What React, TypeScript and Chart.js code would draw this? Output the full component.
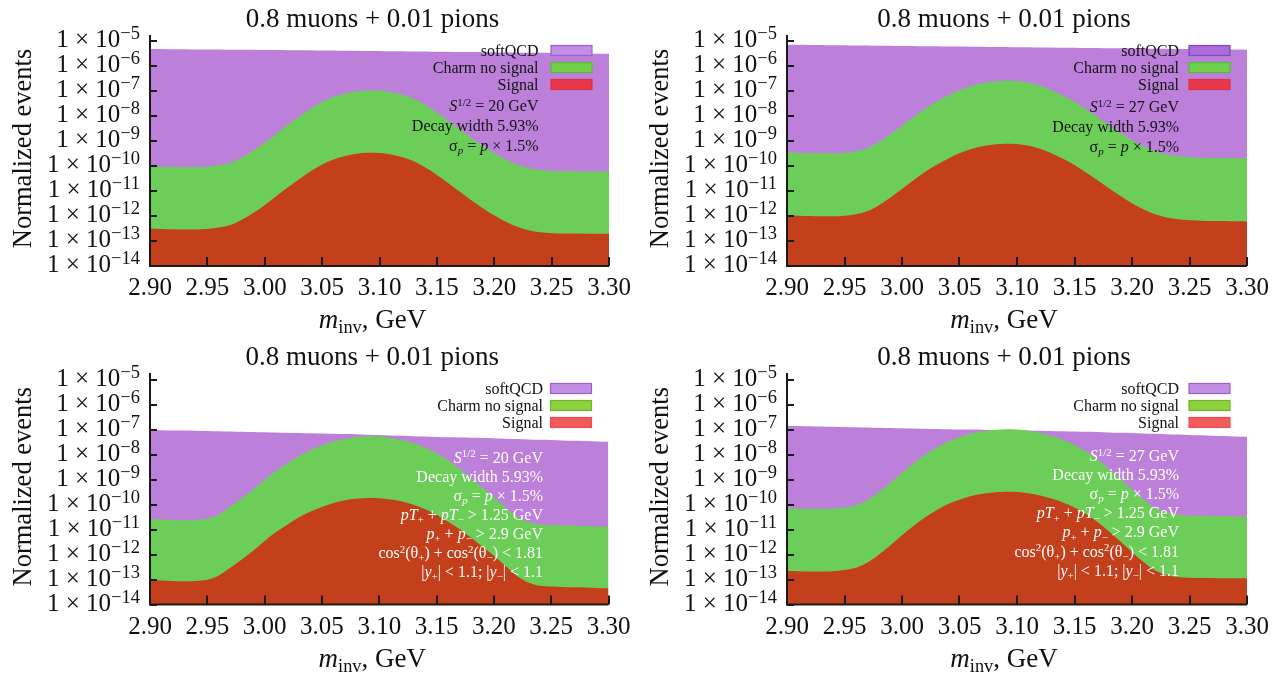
import React, { useEffect, useRef } from 'react';
import { Chart, registerables } from 'chart.js';

Chart.register(...registerables);

// ---------- data ----------
const massGeV = [
  2.90, 2.91, 2.92, 2.93, 2.94, 2.95, 2.96, 2.97, 2.98, 2.99,
  3.00, 3.01, 3.02, 3.03, 3.04, 3.05, 3.06, 3.07, 3.08, 3.09,
  3.10, 3.11, 3.12, 3.13, 3.14, 3.15, 3.16, 3.17, 3.18, 3.19,
  3.20, 3.21, 3.22, 3.23, 3.24, 3.25, 3.26, 3.27, 3.28, 3.29,
  3.30,
];
const xTickLabels = ['2.90', '2.95', '3.00', '3.05', '3.10', '3.15', '3.20', '3.25', '3.30'];
const yTickExponents = [-14, -13, -12, -11, -10, -9, -8, -7, -6, -5];
const seriesNames = ['softQCD', 'Charm no signal', 'Signal'];
const panelTitle = '0.8 muons + 0.01 pions';

// log10(normalized events), S^1/2 = 20 GeV, no cuts
const softQCD_20 = [
  -5.30, -5.30, -5.31, -5.31, -5.32, -5.32, -5.32, -5.33, -5.33, -5.33,
  -5.34, -5.34, -5.35, -5.35, -5.35, -5.36, -5.36, -5.37, -5.37, -5.38,
  -5.38, -5.39, -5.39, -5.40, -5.40, -5.41, -5.41, -5.42, -5.42, -5.43,
  -5.43, -5.44, -5.44, -5.45, -5.45, -5.46, -5.47, -5.47, -5.48, -5.49,
  -5.49,
];
const charm_20 = [
  -10.00, -10.02, -10.03, -10.04, -10.04, -10.02, -9.96, -9.86, -9.65, -9.38,
  -9.05, -8.70, -8.35, -8.02, -7.70, -7.43, -7.23, -7.09, -7.00, -6.96,
  -6.97, -7.03, -7.14, -7.30, -7.55, -7.85, -8.18, -8.52, -8.86, -9.18,
  -9.47, -9.73, -9.93, -10.07, -10.15, -10.19, -10.20, -10.20, -10.21, -10.21,
  -10.21,
];
const signal_20 = [
  -12.50, -12.52, -12.53, -12.54, -12.54, -12.52, -12.46, -12.36, -12.15, -11.88,
  -11.55, -11.20, -10.85, -10.52, -10.20, -9.93, -9.73, -9.59, -9.50, -9.46,
  -9.47, -9.53, -9.64, -9.80, -10.05, -10.35, -10.68, -11.02, -11.36, -11.68,
  -11.97, -12.23, -12.43, -12.57, -12.65, -12.69, -12.70, -12.70, -12.71, -12.71,
  -12.71,
];

// S^1/2 = 27 GeV, no cuts
const softQCD_27 = [
  -5.13, -5.13, -5.14, -5.14, -5.15, -5.15, -5.16, -5.16, -5.17, -5.17,
  -5.18, -5.18, -5.19, -5.19, -5.20, -5.20, -5.21, -5.21, -5.22, -5.22,
  -5.23, -5.23, -5.24, -5.24, -5.25, -5.25, -5.26, -5.26, -5.27, -5.27,
  -5.28, -5.28, -5.29, -5.29, -5.30, -5.30, -5.31, -5.31, -5.32, -5.32,
  -5.33,
];
const charm_27 = [
  -9.45, -9.46, -9.47, -9.48, -9.48, -9.46, -9.40, -9.27, -9.03, -8.72,
  -8.38, -8.03, -7.70, -7.42, -7.17, -6.95, -6.78, -6.67, -6.60, -6.57,
  -6.58, -6.65, -6.77, -6.95, -7.17, -7.42, -7.72, -8.03, -8.35, -8.66,
  -8.95, -9.20, -9.40, -9.53, -9.60, -9.64, -9.66, -9.67, -9.67, -9.68,
  -9.68,
];
const signal_27 = [
  -11.98, -11.99, -12.00, -12.01, -12.01, -11.99, -11.93, -11.80, -11.56, -11.25,
  -10.91, -10.56, -10.23, -9.95, -9.70, -9.48, -9.31, -9.20, -9.13, -9.10,
  -9.11, -9.18, -9.30, -9.48, -9.70, -9.95, -10.25, -10.56, -10.88, -11.19,
  -11.48, -11.73, -11.93, -12.06, -12.13, -12.17, -12.19, -12.20, -12.20, -12.21,
  -12.21,
];

// S^1/2 = 20 GeV, with cuts
const softQCD_20cut = [
  -7.02, -7.03, -7.04, -7.04, -7.05, -7.06, -7.07, -7.08, -7.09, -7.10,
  -7.11, -7.12, -7.13, -7.14, -7.15, -7.16, -7.17, -7.18, -7.19, -7.21,
  -7.22, -7.24, -7.25, -7.27, -7.28, -7.30, -7.31, -7.32, -7.33, -7.34,
  -7.35, -7.37, -7.38, -7.40, -7.41, -7.42, -7.44, -7.45, -7.46, -7.48,
  -7.49,
];
const charm_20cut = [
  -10.58, -10.60, -10.62, -10.63, -10.62, -10.57, -10.40, -10.08, -9.75, -9.40,
  -9.02, -8.65, -8.35, -8.06, -7.83, -7.64, -7.48, -7.37, -7.31, -7.27,
  -7.28, -7.34, -7.42, -7.55, -7.73, -7.95, -8.23, -8.58, -8.95, -9.33,
  -9.70, -10.10, -10.47, -10.70, -10.79, -10.82, -10.83, -10.85, -10.86, -10.88,
  -10.89,
];
const signal_20cut = [
  -13.02, -13.04, -13.06, -13.07, -13.06, -13.01, -12.84, -12.53, -12.20, -11.85,
  -11.46, -11.10, -10.80, -10.51, -10.28, -10.10, -9.94, -9.83, -9.77, -9.74,
  -9.75, -9.80, -9.88, -10.01, -10.19, -10.41, -10.69, -10.98, -11.32, -11.68,
  -12.05, -12.45, -12.85, -13.12, -13.25, -13.28, -13.30, -13.31, -13.32, -13.34,
  -13.35,
];

// S^1/2 = 27 GeV, with cuts
const softQCD_27cut = [
  -6.85, -6.86, -6.87, -6.88, -6.89, -6.90, -6.91, -6.92, -6.93, -6.94,
  -6.95, -6.96, -6.97, -6.98, -6.99, -7.00, -7.00, -7.01, -7.02, -7.02,
  -7.03, -7.04, -7.05, -7.06, -7.07, -7.08, -7.09, -7.10, -7.12, -7.13,
  -7.14, -7.16, -7.17, -7.19, -7.20, -7.22, -7.23, -7.25, -7.26, -7.28,
  -7.29,
];
const charm_27cut = [
  -10.15, -10.16, -10.17, -10.17, -10.16, -10.12, -10.03, -9.82, -9.50, -9.13,
  -8.73, -8.36, -8.02, -7.73, -7.48, -7.31, -7.16, -7.07, -7.02, -6.99,
  -7.00, -7.05, -7.14, -7.26, -7.42, -7.62, -7.88, -8.20, -8.58, -8.98,
  -9.40, -9.80, -10.13, -10.32, -10.41, -10.44, -10.45, -10.46, -10.47, -10.48,
  -10.49,
];
const signal_27cut = [
  -12.66, -12.67, -12.68, -12.68, -12.67, -12.62, -12.53, -12.32, -12.00, -11.63,
  -11.23, -10.86, -10.52, -10.23, -9.98, -9.81, -9.66, -9.57, -9.52, -9.49,
  -9.50, -9.55, -9.64, -9.76, -9.92, -10.12, -10.38, -10.70, -11.08, -11.48,
  -11.90, -12.30, -12.63, -12.82, -12.90, -12.93, -12.94, -12.94, -12.95, -12.95,
  -12.95,
];

// ---------- styling ----------
const SERIF = '"Liberation Serif", "Times New Roman", Times, serif';
const FILL_SOFT = '#BD80DA';
const FILL_CHARM = '#6CCE58';
const FILL_SIGNAL = '#C4401D';

type Seg = { t: string; st?: 'i' | 'sup' | 'sub' | 'isub' };

type PanelCfg = {
  left: number; top: number; width: number; height: number;
  pad: { left: number; top: number; right: number; bottom: number };
  soft: number[]; charm: number[]; signal: number[];
  energy: string; cuts: boolean;
  textRight: number; annotTop: number; annotStep: number; annotColor: string;
  titleDx: number;
  swatches: { fill: string; stroke: string }[];
};

const swatchesTop = [
  { fill: '#C28EE2', stroke: '#9B5FD2' },
  { fill: '#6FD04C', stroke: '#58B83E' },
  { fill: '#E8364B', stroke: '#E0303F' },
];
const swatchesTop2 = [
  { fill: '#A96CDA', stroke: '#7E45C4' },
  { fill: '#6FD04C', stroke: '#58B83E' },
  { fill: '#E8364B', stroke: '#E0303F' },
];
const swatchesBottom = [
  { fill: '#C28EE2', stroke: '#9B5FD2' },
  { fill: '#8ED13E', stroke: '#6CB52E' },
  { fill: '#F15B5E', stroke: '#E84E52' },
];

const panels: PanelCfg[] = [
  {
    left: 0, top: 0, width: 640, height: 337,
    pad: { left: 150, top: 35, right: 31, bottom: 71 },
    soft: softQCD_20, charm: charm_20, signal: signal_20,
    energy: '20', cuts: false, textRight: 70.5, annotTop: 70.5, annotStep: 20,
    annotColor: '#111111', titleDx: -7, swatches: swatchesTop,
  },
  {
    left: 640, top: 0, width: 643, height: 337,
    pad: { left: 147, top: 35, right: 36, bottom: 71 },
    soft: softQCD_27, charm: charm_27, signal: signal_27,
    energy: '27', cuts: false, textRight: 68, annotTop: 71.5, annotStep: 20,
    annotColor: '#111111', titleDx: -13, swatches: swatchesTop2,
  },
  {
    left: 0, top: 337, width: 640, height: 338,
    pad: { left: 150, top: 36, right: 31.5, bottom: 70.5 },
    soft: softQCD_20cut, charm: charm_20cut, signal: signal_20cut,
    energy: '20', cuts: true, textRight: 65.5, annotTop: 84, annotStep: 19.1,
    annotColor: '#ffffff', titleDx: -7, swatches: swatchesBottom,
  },
  {
    left: 640, top: 337, width: 643, height: 338,
    pad: { left: 147, top: 36, right: 36, bottom: 70.5 },
    soft: softQCD_27cut, charm: charm_27cut, signal: signal_27cut,
    energy: '27', cuts: true, textRight: 68, annotTop: 82.5, annotStep: 19.1,
    annotColor: '#ffffff', titleDx: -13, swatches: swatchesBottom,
  },
];

function segStyle(seg: Seg, size: number, supScale: number) {
  const small = seg.st === 'sup' || seg.st === 'sub' || seg.st === 'isub';
  const italic = seg.st === 'i' || seg.st === 'isub';
  const s = small ? size * supScale : size;
  const dy = seg.st === 'sup' ? -size * 0.32 : (seg.st === 'sub' || seg.st === 'isub') ? size * 0.2 : 0;
  return { font: `${italic ? 'italic ' : ''}${s}px ${SERIF}`, dy };
}

function drawRich(ctx: CanvasRenderingContext2D, segs: Seg[], x: number, baseline: number,
  size: number, color: string, align: 'left' | 'right' | 'center', supScale = 0.68) {
  let w = 0;
  const parts = segs.map((s) => {
    const st = segStyle(s, size, supScale);
    ctx.font = st.font;
    const mw = ctx.measureText(s.t).width;
    w += mw;
    return { ...st, t: s.t, w: mw };
  });
  let cx = align === 'right' ? x - w : align === 'center' ? x - w / 2 : x;
  ctx.fillStyle = color;
  ctx.textAlign = 'left';
  ctx.textBaseline = 'alphabetic';
  parts.forEach((p) => {
    ctx.font = p.font;
    ctx.fillText(p.t, cx, baseline + p.dy);
    cx += p.w;
  });
}

function annotationLines(energy: string, cuts: boolean): Seg[][] {
  const lines: Seg[][] = [
    [{ t: 'S', st: 'i' }, { t: '1/2', st: 'sup' }, { t: ` = ${energy} GeV` }],
    [{ t: 'Decay width 5.93%' }],
    [{ t: 'σ' }, { t: 'p', st: 'isub' }, { t: ' = ' }, { t: 'p', st: 'i' }, { t: ' × 1.5%' }],
  ];
  if (cuts) {
    lines.push(
      [{ t: 'pT', st: 'i' }, { t: '+', st: 'sub' }, { t: ' + ' }, { t: 'pT', st: 'i' }, { t: '−', st: 'sub' }, { t: ' > 1.25 GeV' }],
      [{ t: 'p', st: 'i' }, { t: '+', st: 'sub' }, { t: ' + ' }, { t: 'p', st: 'i' }, { t: '−', st: 'sub' }, { t: ' > 2.9 GeV' }],
      [{ t: 'cos' }, { t: '2', st: 'sup' }, { t: '(θ' }, { t: '+', st: 'sub' }, { t: ') + cos' }, { t: '2', st: 'sup' }, { t: '(θ' }, { t: '−', st: 'sub' }, { t: ') < 1.81' }],
      [{ t: '|' }, { t: 'y', st: 'i' }, { t: '+', st: 'sub' }, { t: '| < 1.1; |' }, { t: 'y', st: 'i' }, { t: '−', st: 'sub' }, { t: '| < 1.1' }],
    );
  }
  return lines;
}

function makeDecor(p: PanelCfg) {
  return {
    id: 'decor',
    afterDraw(chart: any) {
      const { ctx, chartArea: a, scales } = chart;
      const xs = scales.x;
      const ys = scales.y;
      ctx.save();
      // axes
      ctx.strokeStyle = '#1a1a1a';
      ctx.lineWidth = 2;
      ctx.beginPath();
      ctx.moveTo(a.left, a.top);
      ctx.lineTo(a.left, a.bottom);
      ctx.lineTo(a.right, a.bottom);
      ctx.stroke();
      // inward ticks
      yTickExponents.forEach((e) => {
        const y = Math.round(ys.getPixelForValue(Math.pow(10, e)));
        ctx.beginPath();
        ctx.moveTo(a.left, y);
        ctx.lineTo(a.left + 7, y);
        ctx.stroke();
      });
      xTickLabels.forEach((lab) => {
        const x = Math.round(xs.getPixelForValue(Number(lab)));
        ctx.beginPath();
        ctx.moveTo(x, a.bottom);
        ctx.lineTo(x, a.bottom - 9);
        ctx.stroke();
      });
      // y tick labels
      yTickExponents.forEach((e) => {
        const y = ys.getPixelForValue(Math.pow(10, e));
        drawRich(ctx, [{ t: '1 × 10' }, { t: `−${Math.abs(e)}`, st: 'sup' }], a.left - 10, y + 6, 25, '#111111', 'right', 0.74);
      });
      // x tick labels
      xTickLabels.forEach((lab) => {
        const x = xs.getPixelForValue(Number(lab));
        drawRich(ctx, [{ t: lab }], x, a.bottom + 29, 25, '#111111', 'center');
      });
      // titles
      const cx = (a.left + a.right) / 2;
      drawRich(ctx, [{ t: panelTitle }], cx + p.titleDx, a.top - 8.5, 27, '#111111', 'center');
      drawRich(ctx, [{ t: 'm', st: 'i' }, { t: 'inv', st: 'sub' }, { t: ', GeV' }], cx + p.titleDx, a.bottom + 62, 27, '#111111', 'center');
      ctx.save();
      ctx.translate(a.left - 128, (a.top + a.bottom) / 2 - 2);
      ctx.rotate(-Math.PI / 2);
      drawRich(ctx, [{ t: 'Normalized events' }], 0, 9, 26.5, '#111111', 'center');
      ctx.restore();
      // legend
      const legendRows = [15.5, 32.5, 49.5];
      seriesNames.forEach((name, i) => {
        const yc = a.top + legendRows[i];
        drawRich(ctx, [{ t: name }], a.right - p.textRight, yc + 5.5, 16, '#111111', 'right');
        const sw = p.swatches[i];
        ctx.fillStyle = sw.fill;
        ctx.fillRect(a.right - 58, yc - 5, 41, 10);
        ctx.strokeStyle = sw.stroke;
        ctx.lineWidth = 1.2;
        ctx.strokeRect(a.right - 58, yc - 5, 41, 10);
      });
      // annotations
      annotationLines(p.energy, p.cuts).forEach((line, i) => {
        const yc = a.top + p.annotTop + i * p.annotStep;
        drawRich(ctx, line, a.right - p.textRight, yc + 5.5, 16, p.annotColor, 'right');
      });
      ctx.restore();
    },
  };
}

function toPoints(logs: number[]) {
  return massGeV.map((m, i) => ({ x: m, y: Math.pow(10, logs[i]) }));
}

function Panel({ cfg }: { cfg: PanelCfg }) {
  const ref = useRef<HTMLCanvasElement | null>(null);
  useEffect(() => {
    if (!ref.current) return;
    const series = [cfg.soft, cfg.charm, cfg.signal];
    const fills = [FILL_SOFT, FILL_CHARM, FILL_SIGNAL];
    const orders = [3, 2, 1];
    const chart = new Chart(ref.current, {
      type: 'line',
      data: {
        datasets: series.map((s, i) => ({
          label: seriesNames[i],
          data: toPoints(s),
          backgroundColor: fills[i],
          borderColor: fills[i],
          borderWidth: 0,
          pointRadius: 0,
          fill: 'start',
          cubicInterpolationMode: 'monotone',
          order: orders[i],
        })),
      },
      options: {
        responsive: false,
        maintainAspectRatio: false,
        animation: false,
        devicePixelRatio: 1,
        layout: { padding: cfg.pad },
        plugins: { legend: { display: false }, tooltip: { enabled: false }, title: { display: false } },
        scales: {
          x: { type: 'linear', min: 2.9, max: 3.3, display: false },
          y: { type: 'logarithmic', min: 1e-14, max: 1.82e-5, display: false },
        },
      },
      plugins: [makeDecor(cfg)],
    } as any);
    return () => chart.destroy();
  }, [cfg]);
  return (
    <canvas
      ref={ref}
      width={cfg.width}
      height={cfg.height}
      style={{ position: 'absolute', left: cfg.left, top: cfg.top, width: cfg.width, height: cfg.height }}
    />
  );
}

export default function App() {
  return (
    <div style={{ position: 'fixed', left: 0, top: 0, width: 1283, height: 675, background: '#ffffff', overflow: 'hidden' }}>
      {panels.map((p, i) => (
        <Panel key={i} cfg={p} />
      ))}
    </div>
  );
}
